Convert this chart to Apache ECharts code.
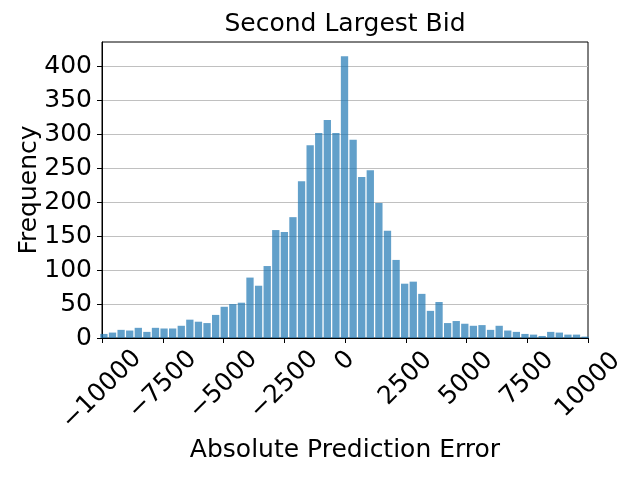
<!DOCTYPE html>
<html><head><meta charset="utf-8">
<script src="https://cdn.jsdelivr.net/npm/echarts@6/dist/echarts.min.js"></script>
<style>html,body{margin:0;padding:0;background:#fff}#c{width:640px;height:480px}</style>
</head><body><div id="c"></div>
<script>
const binCenters = [-9921,-9567,-9214,-8860,-8506,-8153,-7799,-7446,-7092,-6738,-6385,-6031,-5678,-5324,-4970,-4617,-4263,-3910,-3556,-3202,-2849,-2495,-2142,-1788,-1434,-1081,-727,-374,-20,334,687,1041,1394,1748,2102,2455,2809,3162,3516,3870,4223,4577,4930,5284,5638,5991,6345,6698,7052,7406,7759,8113,8466,8820,9174,9527,9881];
const frequencies = [6,8,12,11,15,9,15,14,14,18,27,24,22,34,46,50,52,89,77,106,159,156,178,231,284,302,321,302,415,292,237,247,199,158,115,80,83,65,40,53,22,25,21,18,19,12,18,11,9,6,5,3,9,8,5,5,2];
const xTickValues = [-10000,-7500,-5000,-2500,0,2500,5000,7500,10000];
const xTickLabels = ['\u221210000','\u22127500','\u22125000','\u22122500','0','2500','5000','7500','10000'];
const yTickValues = [0,50,100,150,200,250,300,350,400];
const yTickLabels = ['0','50','100','150','200','250','300','350','400'];
const titleText = 'Second Largest Bid';
const xName = 'Absolute Prediction Error';
const yName = 'Frequency';

const FONT = 'DejaVu Sans';
const chart = echarts.init(document.getElementById('c'), null, {renderer:'canvas'});
function richStyle(p){return {fontFamily:FONT,fontSize:25,color:'#000',padding:[p,p,0,0]};}
chart.setOption({
  animation:false,
  backgroundColor:'#fff',
  title:{text:titleText,left:345,top:12,textAlign:'center',padding:0,
    textStyle:{fontFamily:FONT,fontSize:25,fontWeight:'normal',color:'#000'}},
  grid:{left:102,right:52,top:42,bottom:142,show:true,borderColor:'#000',borderWidth:1,
    backgroundColor:'transparent',containLabel:false,outerBoundsMode:'none'},
  xAxis:{type:'value',min:-10000,max:10000,interval:2500,
    name:xName,nameLocation:'middle',nameGap:100,nameMoveOverlap:false,
    nameTextStyle:{fontFamily:FONT,fontSize:25,color:'#000'},
    axisLine:{show:true,onZero:false,lineStyle:{color:'#000',width:1}},
    axisTick:{show:true,length:5,lineStyle:{color:'#000',width:1}},
    splitLine:{show:false},
    axisLabel:{rotate:45,align:'center',verticalAlign:'middle',margin:23,
      fontFamily:FONT,fontSize:25,color:'#000',
      formatter:function(v){
        const i = xTickValues.indexOf(v);
        if(i<0) return '';
        const s = xTickLabels[i];
        return '{l'+s.length+'|'+s+'}';
      },
      rich:{l1:richStyle(0),l4:richStyle(25),l5:richStyle(34),l6:richStyle(41)}
    }
  },
  yAxis:{type:'value',min:0,max:436,interval:50,
    name:yName,nameLocation:'middle',nameGap:60,nameRotate:90,nameMoveOverlap:false,
    nameTextStyle:{fontFamily:FONT,fontSize:25,color:'#000'},
    axisLine:{show:true,onZero:false,lineStyle:{color:'#000',width:1}},
    axisTick:{show:true,length:5,lineStyle:{color:'#000',width:1},customValues:yTickValues},
    splitLine:{show:true,lineStyle:{color:'#c0c0c0',width:1}},
    axisLabel:{margin:10,fontFamily:FONT,fontSize:25,color:'#000',customValues:yTickValues,
      formatter:function(v){const i=yTickValues.indexOf(v);return i<0?'':yTickLabels[i];}}
  },
  series:[{type:'bar',data:binCenters.map(function(x,i){return [x,frequencies[i]];}),
    barWidth:7.3,clip:true,itemStyle:{color:'#1f77b4',opacity:0.7}}]
});
</script></body></html>
